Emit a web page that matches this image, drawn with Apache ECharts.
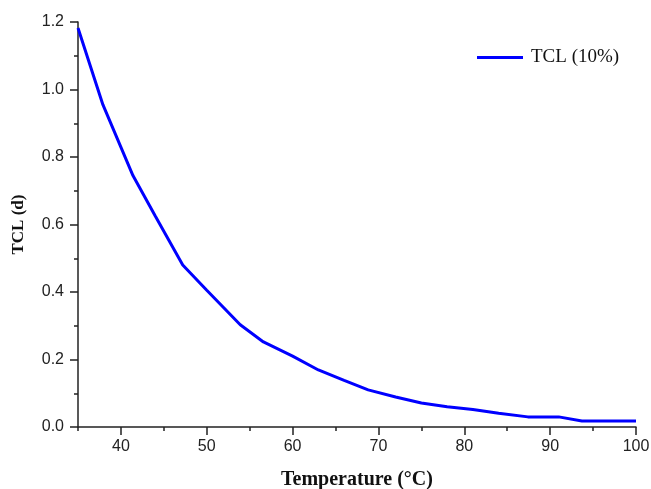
<!DOCTYPE html>
<html>
<head>
<meta charset="utf-8">
<title>TCL vs Temperature</title>
<script src="https://cdn.jsdelivr.net/npm/echarts@6/dist/echarts.min.js"></script>
<style>
  html, body { margin: 0; padding: 0; background: #fff; }
  #chart { width: 651px; height: 489px; }
</style>
</head>
<body>
<div id="chart"></div>
<script>
// Temperature (°C) and thermal cycle life TCL (days) for the 10% sample
const temperatures = [35, 37.9, 41.4, 44, 47.2, 50, 53.9, 56.6, 60, 63, 66, 68.8, 72, 75, 78, 81, 84, 87.4, 91, 93.7, 100];
const tclValues = [1.182, 0.955, 0.745, 0.625, 0.48, 0.405, 0.303, 0.252, 0.21, 0.169, 0.138, 0.11, 0.089, 0.071, 0.06, 0.052, 0.041, 0.030, 0.030, 0.018, 0.018];

// Axis ticks
const xMajorTicks = [40, 50, 60, 70, 80, 90, 100];
const xMinorTicks = [35, 45, 55, 65, 75, 85, 95];

const seriesName = 'TCL (10%)';
const xTitle = 'Temperature (°C)';
const yTitle = 'TCL (d)';

const axisColor = '#222';
const lineBlue = '#0000ff';
const sansFont = '"Liberation Sans", Arial, sans-serif';
const serifFont = '"Liberation Serif", "Times New Roman", serif';

const chart = echarts.init(document.getElementById('chart'), null, { renderer: 'canvas' });

const points = temperatures.map((t, i) => [t, tclValues[i]]);

chart.setOption({
  animation: false,
  backgroundColor: '#fff',
  grid: { left: 78, right: 15, top: 22, bottom: 62, containLabel: false, outerBoundsMode: 'none' },
  legend: {
    left: 472,
    top: 43,
    itemWidth: 46,
    itemHeight: 3,
    itemGap: 0,
    textStyle: { fontFamily: serifFont, fontSize: 19, color: '#111', padding: [0, 0, 0, 3] },
    data: [{ name: seriesName, icon: 'rect' }]
  },
  xAxis: [
    {
      type: 'value',
      min: 35,
      max: 100,
      position: 'bottom',
      name: xTitle,
      nameLocation: 'middle',
      nameGap: 43,
      nameTextStyle: { fontFamily: serifFont, fontWeight: 'bold', fontSize: 20, color: '#111' },
      axisLine: { show: true, onZero: false, lineStyle: { color: axisColor, width: 1.5 } },
      axisTick: { show: true, inside: false, length: 8, customValues: xMajorTicks, lineStyle: { color: axisColor, width: 1.5 } },
      axisLabel: { show: true, customValues: xMajorTicks, margin: 12, fontFamily: sansFont, fontSize: 16, color: '#222' },
      splitLine: { show: false }
    },
    {
      type: 'value',
      min: 35,
      max: 100,
      position: 'bottom',
      axisLine: { show: false, onZero: false },
      axisTick: { show: true, inside: false, length: 4, customValues: xMinorTicks, lineStyle: { color: axisColor, width: 1.5 } },
      axisLabel: { show: false },
      splitLine: { show: false }
    }
  ],
  yAxis: {
    type: 'value',
    min: 0,
    max: 1.2,
    interval: 0.2,
    name: yTitle,
    nameLocation: 'middle',
    nameGap: 51,
    nameRotate: 90,
    nameTextStyle: { fontFamily: serifFont, fontWeight: 'bold', fontSize: 17, color: '#111' },
    axisLine: { show: true, onZero: false, lineStyle: { color: axisColor, width: 1.5 } },
    axisTick: { show: true, inside: false, length: 8, lineStyle: { color: axisColor, width: 1.5 } },
    minorTick: { show: true, splitNumber: 2, length: 4, lineStyle: { color: axisColor, width: 1.5 } },
    axisLabel: {
      margin: 14,
      fontFamily: sansFont,
      fontSize: 16,
      color: '#222',
      formatter: v => v.toFixed(1)
    },
    splitLine: { show: false }
  },
  series: [
    {
      name: seriesName,
      type: 'line',
      xAxisIndex: 0,
      data: points,
      symbol: 'none',
      smooth: false,
      clip: true,
      lineStyle: { color: lineBlue, width: 3 },
      itemStyle: { color: lineBlue }
    }
  ]
});
</script>
</body>
</html>
